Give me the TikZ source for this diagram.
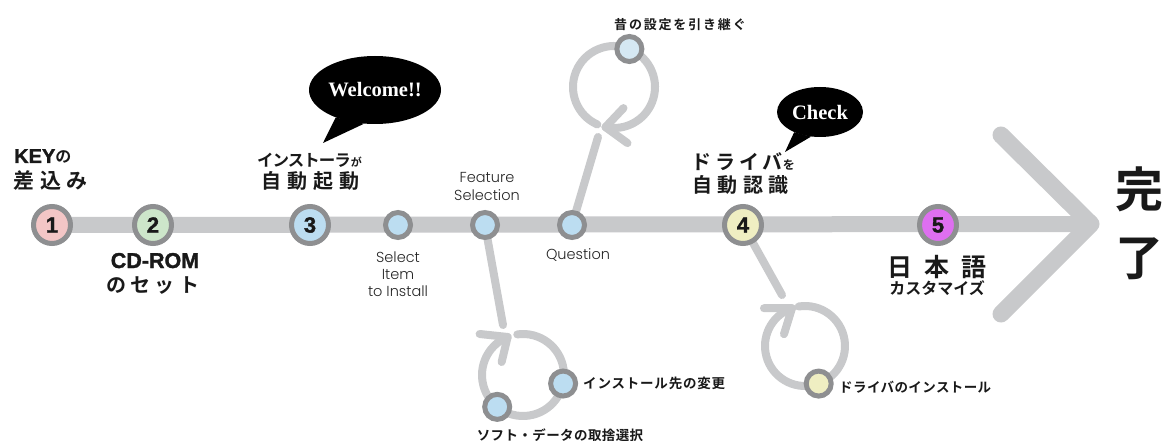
\documentclass[tikz,border=0pt]{standalone}
\usepackage{fontspec}
\usetikzlibrary{backgrounds,shapes.geometric,calc}
\newfontfamily\fJP{Noto Sans CJK JP}[BoldFont=* Bold]
\newfontfamily\fHeavy{Liberation Sans}[BoldFeatures={FakeBold=1.6}]
\newfontfamily\fGoth{Poppins Light}
\newfontfamily\fSerif{Liberation Serif}
\newcommand{\jpsz}[2]{\fJP\bfseries\fontsize{#1}{#1}\selectfont\addfontfeatures{LetterSpace=#2}}
\definecolor{lg}{HTML}{C8C9CB}
\definecolor{bd}{HTML}{8E8F91}
\definecolor{cA}{HTML}{F3C6C6}
\definecolor{cB}{HTML}{CDE6CA}
\definecolor{cC}{HTML}{BCDDF1}
\definecolor{cD}{HTML}{EFEEC2}
\definecolor{cE}{HTML}{DE6FF0}
\definecolor{cF}{HTML}{D5E8F3}
\tikzset{
  bignode/.style={circle, draw=bd, line width=5pt, minimum size=37pt, inner sep=0pt,
    font=\fHeavy\bfseries\fontsize{22}{22}\selectfont, text=black!90},
  smallnode/.style={circle, draw=bd, line width=5pt, minimum size=25pt, inner sep=0pt, fill=cC},
  mainline/.style={line width=16pt, draw=lg},
  conn/.style={line width=8pt, draw=lg, line cap=round, line join=round},
  bubble/.style={ellipse, fill=black, inner sep=0pt, text=white,
    font=\fSerif\bfseries\fontsize{20.5}{20.5}\selectfont},
  thin/.style={font=\fGoth\fontsize{14.5}{17}\selectfont, align=center, inner sep=0pt, text=black!85},
  jlab/.style={inner sep=0pt, text=black!90}
}
\begin{document}
\begin{tikzpicture}[x=1pt,y=1pt]
\useasboundingbox (0,0) rectangle (1170,-441);

% main stations
\node[bignode, fill=cA] (n1) at (52,-225) {1};
\node[bignode, fill=cB] (n2) at (153,-225) {2};
\node[bignode, fill=cC] (n3) at (310,-225) {3};
\node[smallnode] (sel) at (398,-225) {};
\node[smallnode] (fs) at (485,-225) {};
\node[smallnode] (q) at (572,-225) {};
\node[bignode, fill=cD] (n4) at (743,-225) {4};
\node[bignode, fill=cE] (n5) at (938,-225) {5};
\coordinate (tip) at (1091,-224);
\coordinate (armT) at (1001,-135);
\coordinate (armB) at (1001,-314);

% loop centres
\coordinate (cq) at (614,-87);
\coordinate (cf) at (523,-375);
\coordinate (cd) at (805,-346);

% loop nodes
\node[smallnode, fill=cF] (old) at ($(cq)+(68:41)$) {};
\node[smallnode] (inst) at ($(cf)+(-12:41)$) {};
\node[smallnode] (soft) at ($(cf)+(231:41)$) {};
\node[smallnode, fill=cD] (drv) at ($(cd)+(-70:40)$) {};

\coordinate (qt) at (598,-137);
\coordinate (ft) at (503,-325);
\coordinate (dt) at (782,-295);
\coordinate (tq) at ($(cq)+(-102:41)$);
\coordinate (tf) at ($(cf)+(112:41)$);
\coordinate (td) at ($(cd)+(109:40)$);

% labels
\node[jlab, anchor=base west] (lkey) at (14,-163)
  {\fHeavy\bfseries\fontsize{20}{20}\selectfont KEY{\jpsz{16}{0}の}};
\node[jlab, anchor=base west] (lsashi) at (13,-189) {\jpsz{21}{28}差込み};
\node[jlab, anchor=base] (lcd) at (155,-268) {\fHeavy\bfseries\fontsize{21.5}{21.5}\selectfont CD-ROM};
\node[jlab, anchor=base west] (lset) at (106,-292) {\jpsz{20}{22}のセット};
\node[jlab, anchor=base west] (linst) at (257,-167) {\jpsz{16.5}{-6}インストーラ{\jpsz{11}{0}が}};
\node[jlab, anchor=base west] (ljido) at (261,-189) {\jpsz{20}{30}自動起動};
\node[thin] (lsel) at (398,-274) {Select\\Item\\to Install};
\node[thin, font=\fGoth\fontsize{14.5}{18}\selectfont] (lfs) at (487,-186) {Feature\\Selection};
\node[thin] (lq) at (578,-255) {Question};
\node[jlab] (lold) at (680,-25) {\jpsz{13}{14}昔の設定を引き継ぐ};
\node[jlab, anchor=base west] (ldrv) at (691,-170) {\jpsz{20}{20}ドライバ{\jpsz{12}{0}を}};
\node[jlab, anchor=base west] (lnin) at (692,-193) {\jpsz{20}{28}自動認識};
\node[jlab, anchor=base west] (lnihon) at (887,-276) {\jpsz{25}{48}日本語};
\node[jlab] (lcust) at (937,-288) {\jpsz{16}{0}カスタマイズ};
\node[jlab, anchor=west] (linst2) at (583,-383) {\jpsz{13.5}{6}インストール先の変更};
\node[jlab] (lsoft) at (560,-435) {\jpsz{13.5}{3}ソフト・データの取捨選択};
\node[jlab, anchor=west] (ldrv2) at (839,-387) {\jpsz{13.5}{3}ドライバのインストール};
\node[jlab] (lkan) at (1139,-189) {\jpsz{48}{0}完};
\node[jlab] (lryo) at (1139,-259) {\jpsz{48}{0}了};

% speech bubbles
\node[bubble, minimum width=124pt, minimum height=68pt] (wb) at (375,-90) {Welcome!!};
\coordinate (wtip) at (323,-143);
\fill (wb.215) -- (wtip) -- (wb.252) -- cycle;
\node[bubble, minimum width=86pt, minimum height=50pt] (cb) at (820,-112) {Check};
\coordinate (ctip) at (785,-152);
\fill (cb.218) -- (ctip) -- (cb.250) -- cycle;

\begin{pgfonlayer}{background}
  \fill[white] (0,0) rectangle (1170,-441);
  \draw[mainline] (n1.center) -- (tip);
  \draw[line width=17pt, draw=lg, line cap=round, line join=round] (armT) -- (tip) -- (armB);
  % loop above Question
  \draw[conn] (q) -- (qt);
  \draw[conn] (old.center) arc[start angle=68, end angle=246, radius=41];
  \draw[conn] (old.center) arc[start angle=68, end angle=-102, radius=41];
  \draw[conn] ($(tq)+(18,19)$) -- (tq) -- ($(tq)+(22,-16)$);
  % loop below Feature Selection
  \draw[conn] (fs) -- (ft);
  \draw[conn] ($(cf)+(98:41)$) arc[start angle=98, end angle=-248, radius=41];
  \draw[conn] ($(tf)+(-28,3)$) -- (tf) -- ($(tf)+(-6,-25)$);
  % loop below 4
  \draw[conn] (n4) -- (dt);
  \draw[conn] ($(cd)+(99:40)$) arc[start angle=99, end angle=-251, radius=40];
  \draw[conn] ($(td)+(-28,0)$) -- (td) -- ($(td)+(-8,-26)$);
\end{pgfonlayer}
\end{tikzpicture}
\end{document}
